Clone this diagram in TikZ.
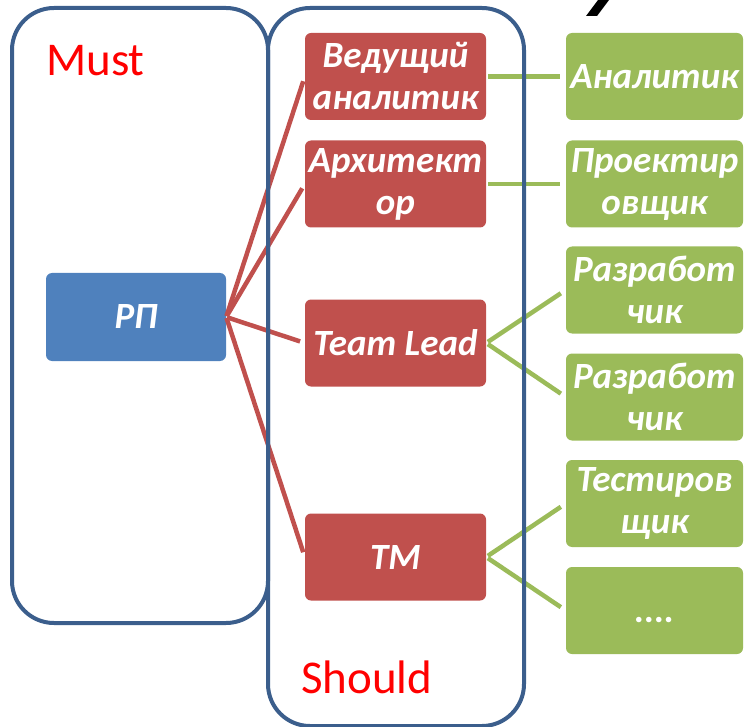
\documentclass[tikz,border=0pt]{standalone}
\usepackage{fontspec}
\setmainfont{Carlito}
\definecolor{outl}{HTML}{3B5E8C}
\definecolor{rbox}{HTML}{C0504D}
\definecolor{bbox}{HTML}{4F81BD}
\definecolor{gbox}{HTML}{9BBB59}
\definecolor{lbl}{HTML}{FF0000}
\tikzset{
  group/.style={draw=outl, line width=4pt, rounded corners=42pt, inner sep=0pt},
  rolebox/.style={fill=#1, rounded corners=6pt, inner sep=0pt, align=center,
    text=white, font=\fontsize{37}{42}\selectfont\bfseries\itshape},
  redbox/.style={rolebox=rbox, minimum width=181pt, minimum height=87pt},
  greenbox/.style={rolebox=gbox, minimum width=177pt, minimum height=87pt},
  grouplabel/.style={text=lbl, font=\fontsize{47}{50}\selectfont, inner sep=0pt, anchor=base west},
  redlink/.style={draw=rbox, line width=4.5pt, shorten >=5pt, shorten <=1pt},
  greenlink/.style={draw=gbox, line width=4.5pt, shorten >=6pt, shorten <=2pt},
}
\begin{document}
\begin{tikzpicture}[x=1pt,y=-1pt]
\useasboundingbox (0,0) rectangle (744,727);
% title fragment
\fill[black] (586,16) -- (597,16) -- (609,0) -- (598,0) -- cycle;
% nodes
\node[rolebox=bbox, minimum width=180pt, minimum height=88pt] (rp) at (136,317) {РП};
\node[redbox] (ved) at (395.5,76.5) {Ведущий\\аналитик};
\node[redbox] (arch) at (395.5,184) {Архитект\\ор};
\node[redbox] (tl) at (395.5,343) {Team Lead};
\node[redbox] (tm) at (395.5,557) {ТМ};
\node[greenbox] (an) at (654.5,76.5) {Аналитик};
\node[greenbox] (pr) at (654.5,184) {Проектир\\овщик};
\node[greenbox] (dev1) at (654.5,290) {Разработ\\чик};
\node[greenbox] (dev2) at (654.5,397) {Разработ\\чик};
\node[greenbox] (test) at (654.5,503.5) {Тестиров\\щик};
\node[greenbox] (etc) at (654.5,610.5) {\vphantom{Т}....};
% connectors
\draw[redlink] (rp.east) -- (ved.west);
\draw[redlink] (rp.east) -- (arch.west);
\draw[redlink] (rp.east) -- (tl.west);
\draw[redlink] (rp.east) -- (tm.west);
\draw[greenlink] (ved.east) -- (an.west);
\draw[greenlink] (arch.east) -- (pr.west);
\draw[greenlink] (tl.east) -- (dev1.west);
\draw[greenlink] (tl.east) -- (dev2.west);
\draw[greenlink] (tm.east) -- (test.west);
\draw[greenlink] (tm.east) -- (etc.west);
% groups
\node[group, minimum width=256pt, minimum height=615pt] (must) at (140,315.5) {};
\node[group, minimum width=256pt, minimum height=718pt] (should) at (396,367) {};
\node[grouplabel] (mustl) at (46,76) {Must};
\node[grouplabel] (shouldl) at (301,693) {Should};
\end{tikzpicture}
\end{document}
